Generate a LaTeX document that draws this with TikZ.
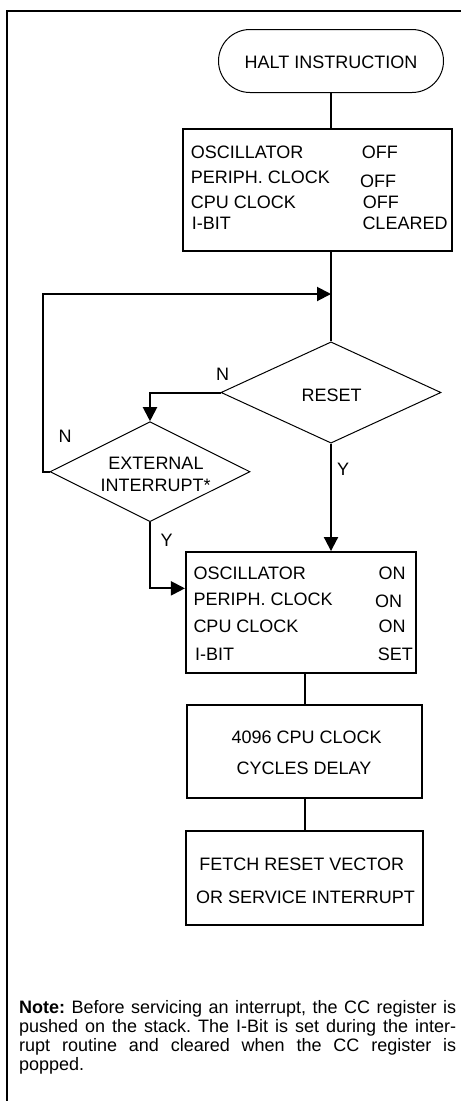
\documentclass[tikz,border=0pt]{standalone}
\usepackage{fontspec}
\setmainfont{Liberation Sans}
\usetikzlibrary{shapes.geometric,arrows.meta,calc}
\frenchspacing
\begin{document}
\begin{tikzpicture}[x=1pt,y=-1pt,
  box/.style={draw,line width=2pt,inner sep=0pt},
  term/.style={draw,line width=1pt,inner sep=0pt,rounded corners=31.5pt},
  dia/.style={draw,shape=diamond,line width=1pt,inner sep=0pt},
  txt/.style={inner sep=0pt,anchor=base west,font=\fontsize{18}{20}\selectfont},
  ctxt/.style={inner sep=0pt,anchor=base,font=\fontsize{18}{20}\selectfont},
  flow/.style={line width=2pt},
  arr/.style={flow,-{Triangle[length=14pt,width=14pt]}}]
\useasboundingbox (0,0) rectangle (461,1101);
% frame (left and top edges visible)
\coordinate (fbl) at (7,1101);
\coordinate (ftl) at (7,11);
\coordinate (ftr) at (461,11);
\draw[line width=2pt] (fbl) -- (ftl) -- (ftr);

% terminal
\node[term,minimum width=225pt,minimum height=63pt] (halt) at (331,61) {};
\node[ctxt] (haltt) at (331,68) {HALT INSTRUCTION};

% box 1
\node[box,minimum width=269pt,minimum height=122.5pt] (b1) at (317.5,190) {};
\node[txt] (b1a) at (190.7,158) {OSCILLATOR};
\node[txt] (b1b) at (190.7,183) {PERIPH. CLOCK};
\node[txt] (b1c) at (190.7,208) {CPU CLOCK};
\node[txt] (b1d) at (191.7,229.5) {I-BIT};
\node[txt] (b1e) at (361.7,158) {OFF};
\node[txt] (b1f) at (360,187.5) {OFF};
\node[txt] (b1g) at (362.7,208.5) {OFF};
\node[txt] (b1h) at (362.3,229.5) {CLEARED};

% decisions
\node[dia,minimum width=220pt,minimum height=101.3pt] (reset) at (331,392.5) {};
\node[ctxt] (resett) at (331.7,401.5) {RESET};
\node[dia,minimum width=200pt,minimum height=100pt] (ext) at (150,471.7) {};
\node[ctxt] (extt1) at (156,469) {EXTERNAL};
\node[ctxt] (extt2) at (155.7,491.5) {INTERRUPT*};

% labels
\node[ctxt] (n1) at (222.7,380.5) {N};
\node[ctxt] (n2) at (65,442.5) {N};
\node[ctxt] (y1) at (343,475.5) {Y};
\node[ctxt] (y2) at (166.7,546.5) {Y};

% box 2
\node[box,minimum width=229.7pt,minimum height=121.3pt] (b2) at (300.8,612.7) {};
\node[txt] (b2a) at (193.3,579) {OSCILLATOR};
\node[txt] (b2b) at (193.3,605) {PERIPH. CLOCK};
\node[txt] (b2c) at (193.3,632) {CPU CLOCK};
\node[txt] (b2d) at (195,660) {I-BIT};
\node[txt] (b2e) at (378.3,579) {ON};
\node[txt] (b2f) at (375,607) {ON};
\node[txt] (b2g) at (378.3,632) {ON};
\node[txt] (b2h) at (377.7,660) {SET};

% box 3
\node[box,minimum width=235.6pt,minimum height=93pt] (b3) at (304.5,751.5) {};
\node[ctxt] (b3a) at (306.7,743) {4096 CPU CLOCK};
\node[ctxt] (b3b) at (304,774) {CYCLES DELAY};

% box 4
\node[box,minimum width=237pt,minimum height=93.7pt] (b4) at (304.5,877.8) {};
\node[ctxt] (b4a) at (301.7,870) {FETCH RESET VECTOR};
\node[ctxt] (b4b) at (305.5,903) {OR SERVICE INTERRUPT};

% note
\node[inner sep=0pt,anchor=base west,text width=437pt,align=justify,
  font=\fontsize{18}{19}\selectfont] (note) at (19,1013)
  {\textbf{Note:} Before servicing an interrupt, the CC register is\linebreak
   pushed on the stack. The I-Bit is set during the inter-\linebreak
   rupt routine and cleared when the CC register is\linebreak
   popped.};

% connectors
\coordinate (merge) at (331,294);
\coordinate (loopx) at (43,294);
\draw[flow] (halt.south) -- (halt.south |- b1.north);
\draw[flow] (b1.south -| halt.south) -- (reset.north);
\draw[arr] (ext.west) -- (ext.west -| loopx) -- (loopx) -- (merge);
\draw[arr] (reset.west) -- (reset.west -| ext.north) -- (ext.north);
\draw[arr] (reset.south) -- (reset.south |- b2.north);
\draw[arr] (ext.south) |- ($(b2.north west)+(0,37.3)$);
\draw[flow] (b2.south -| b3.north) -- (b3.north);
\draw[flow] (b3.south) -- (b4.north);
\end{tikzpicture}
\end{document}
